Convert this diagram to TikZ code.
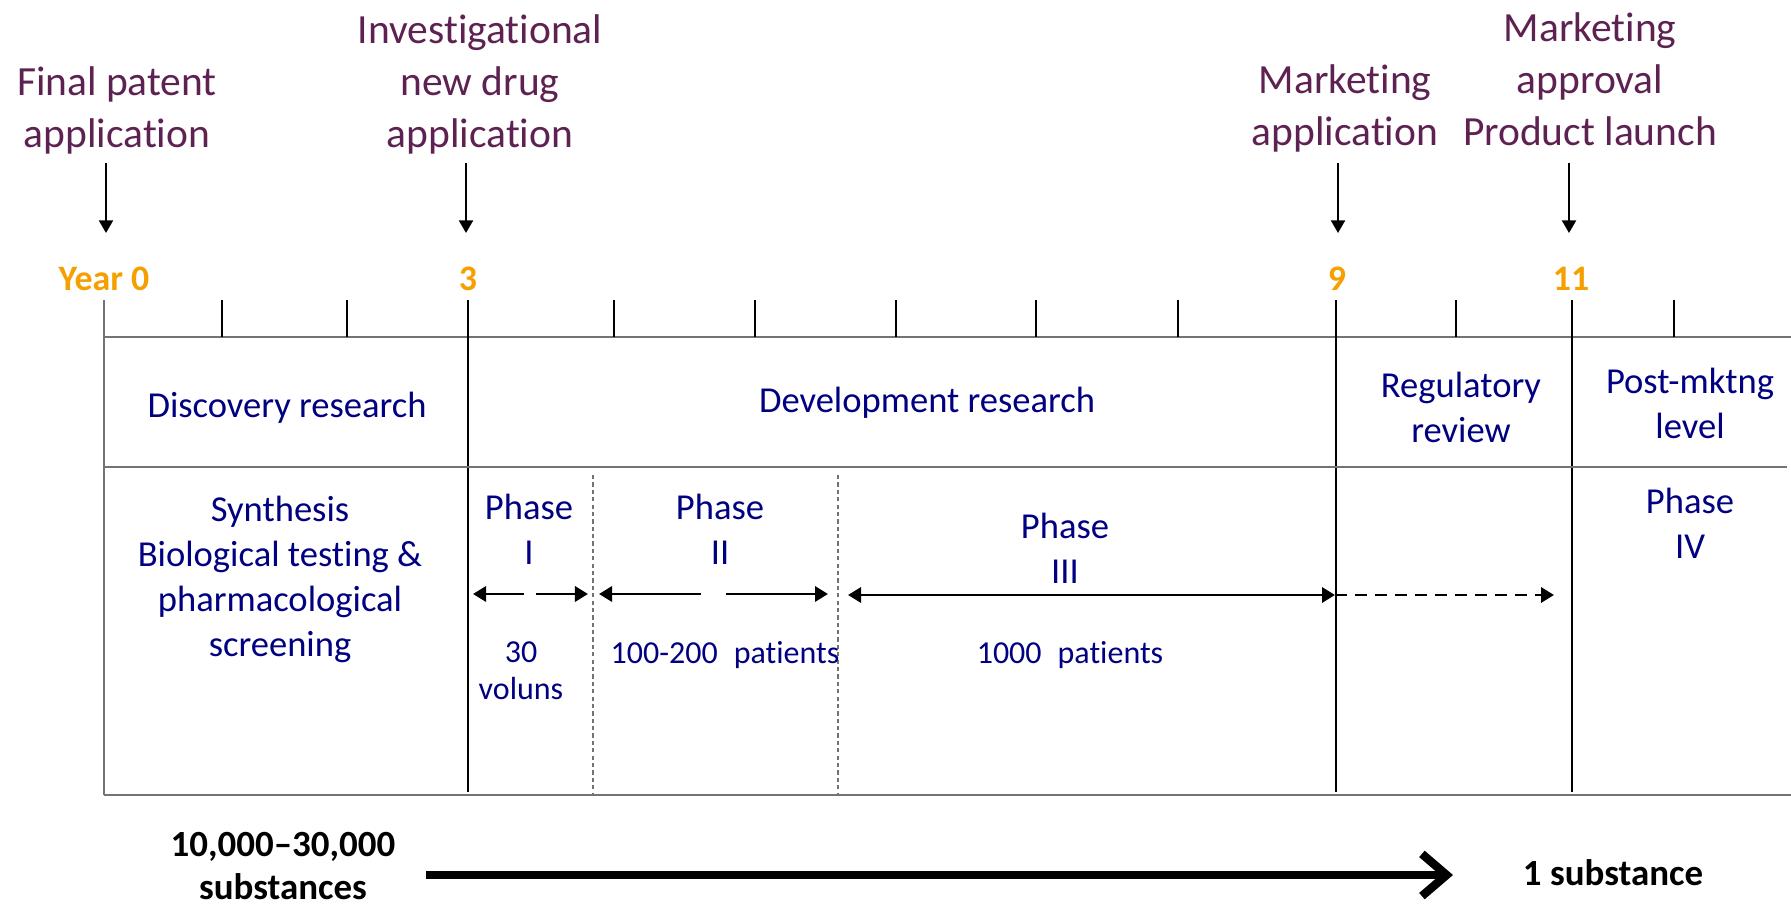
\documentclass[tikz,border=0pt]{standalone}
\usepackage{fontspec}
\setmainfont{Carlito}[Ligatures={TeX,NoCommon},RawFeature={-calt;-clig}]
\usetikzlibrary{arrows.meta}

\definecolor{plum}{RGB}{94,34,82}
\definecolor{navyblue}{RGB}{0,0,128}
\definecolor{yearorange}{RGB}{245,160,0}

\begin{document}
\begin{tikzpicture}[x=0.01cm,y=-0.01cm,
  milestone/.style={text=plum,align=center,font=\fontsize{11.8}{14.8}\selectfont},
  yearlabel/.style={text=yearorange,font=\bfseries\fontsize{10.2}{12}\selectfont},
  stage/.style={text=navyblue,align=center,font=\fontsize{10.4}{12.8}\selectfont},
  count/.style={text=navyblue,align=center,font=\fontsize{9.1}{10.5}\selectfont},
  subst/.style={align=center,font=\bfseries\fontsize{10.5}{12.2}\selectfont},
  gridline/.style={black!55,line width=0.5pt},
  tickline/.style={black,line width=0.45pt},
  phaseline/.style={black!55,line width=0.4pt,dash pattern=on 1.2pt off 0.9pt},
  downarrow/.style={-{Triangle[length=3.6pt,width=4pt]},line width=0.6pt},
  spanarrow/.style={-{Triangle[length=3.7pt,width=4.3pt]},line width=0.8pt},
  bigarrow/.style={-{Straight Barb[length=7pt,width=12pt]},line width=2.4pt}]

  \useasboundingbox (0,0) rectangle (1791,904);

%% milestones
  \node [milestone] (fpa) at (117,110) {Final patent\\application};
  \node [milestone] (ind) at (480,84) {Investigational\\new drug\\application};
  \node [milestone] (mka) at (1345,108) {Marketing\\application};
  \node [milestone] (mkp) at (1590,79) {Marketing\\approval\\Product launch};

  \coordinate (a0t) at (106,163);  \coordinate (a0b) at (106,233);
  \coordinate (a3t) at (466,163);  \coordinate (a3b) at (466,233);
  \coordinate (a9t) at (1338,163); \coordinate (a9b) at (1338,233);
  \coordinate (a11t) at (1569,163); \coordinate (a11b) at (1569,233);
  \draw [downarrow] (a0t) -- (a0b);
  \draw [downarrow] (a3t) -- (a3b);
  \draw [downarrow] (a9t) -- (a9b);
  \draw [downarrow] (a11t) -- (a11b);

%% years
  \node [yearlabel] (y0) at (104,279) {Year 0};
  \node [yearlabel] (y3) at (468,279) {3};
  \node [yearlabel] (y9) at (1337,279) {9};
  \node [yearlabel] (y11) at (1571,279) {11};

%% time axis and table
  \draw [gridline] (104,337) -- (1791,337);
  \foreach \tx in {222,347,614,755,896,1036,1178,1456,1674}
    \draw [tickline] (\tx,300) -- (\tx,337);
  \foreach \tx in {468,1336,1572}
    \draw [tickline] (\tx,300) -- (\tx,792);
  \draw [gridline] (104,300) -- (104,795);
  \draw [gridline] (104,467) -- (1787,467);
  \draw [gridline] (104,795) -- (1791,795);
  \foreach \tx in {593,838}
    \draw [phaseline] (\tx,475) -- (\tx,795);

%% upper row
  \node [stage] (disc) at (287,408) {Discovery research};
  \node [stage] (dev) at (927,403) {Development research};
  \node [stage] (reg) at (1461,407) {Regulatory\\review};
  \node [stage] (post) at (1690,403) {Post-mktng\\level};

%% lower row
  \node [stage] (syn) at (280,579)
    {Synthesis\\Biological testing \&\\pharmacological\\screening};
  \node [stage] (ph1) at (529,529) {Phase\\I};
  \node [stage] (ph2) at (720,529) {Phase\\II};
  \node [stage] (ph3) at (1065,548) {Phase\\III};
  \node [stage] (ph4) at (1690,523) {Phase\\IV};

  \node [count] (n1) at (521,671) {30\\voluns};
  \node [count] (n2) at (725,655) {100-200\enspace patients};
  \node [count] (n3) at (1070,655) {1000\enspace patients};

  \coordinate (p1l) at (473,594);  \coordinate (p1a) at (524,594);
  \coordinate (p1b) at (536,594);  \coordinate (p1r) at (588,594);
  \coordinate (p2l) at (599,594);  \coordinate (p2a) at (701,594);
  \coordinate (p2b) at (726,594);  \coordinate (p2r) at (828,594);
  \coordinate (p3l) at (848,595);  \coordinate (p3r) at (1335,595);
  \coordinate (rr) at (1554,595);

  \draw [spanarrow] (p1a) -- (p1l);
  \draw [spanarrow] (p1b) -- (p1r);
  \draw [spanarrow] (p2a) -- (p2l);
  \draw [spanarrow] (p2b) -- (p2r);
  \draw [spanarrow,{Triangle[length=3.7pt,width=4.3pt]}-{Triangle[length=3.7pt,width=4.3pt]}] (p3l) -- (p3r);
  \draw [spanarrow,dash pattern=on 3.4pt off 2.3pt] (p3r) -- (rr);

%% substances
  \node [subst] (many) at (283,866) {10,000–30,000\\substances};
  \node [subst] (one) at (1613,873) {1 substance};
  \coordinate (bl) at (426,875);
  \coordinate (br) at (1453,875);
  \draw [bigarrow] (bl) -- (br);

\end{tikzpicture}
\end{document}
